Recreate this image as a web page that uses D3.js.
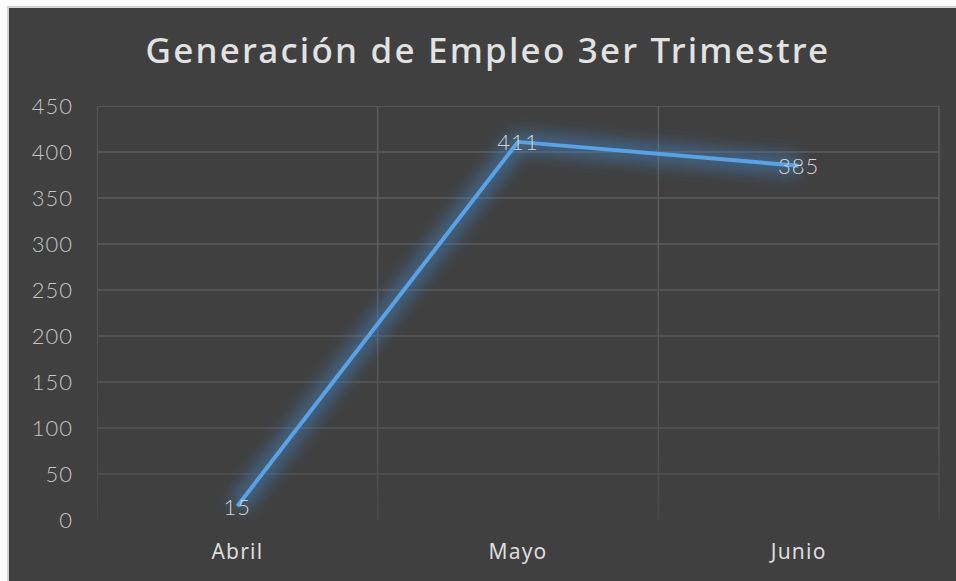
<!DOCTYPE html>
<meta charset="utf-8">
<style>
	body { margin: 0; background: #fff; }
	svg { display: block; }
	.grid line { stroke: #5c5c5c; stroke-width: 1.5px; }
	.axis path, .axis line { display: none; }
	.axis--y text { font: 300 22px Lato, sans-serif; letter-spacing: 1px; fill: #c4c4c4; }
	.axis--x text { font: 400 21px "Noto Sans", sans-serif; letter-spacing: 1.2px; fill: #dcdcdc; }
	.line { fill: none; stroke: #5aa2e4; stroke-width: 4px; stroke-linejoin: round; }
	.glow { fill: none; stroke: #3f88cc; stroke-width: 20px; stroke-opacity: 0.5; }
	.label { font: 300 22px Lato, sans-serif; letter-spacing: 1px; fill: #d4d4d4; }
</style>
<svg width="956" height="581"></svg>
<script src="https://cdn.jsdelivr.net/npm/d3@7"></script>
<script>

var months = ["Abril", "Mayo", "Junio"];
var empleos = [15, 411, 385];
var yTicks = [0, 50, 100, 150, 200, 250, 300, 350, 400, 450];
var title = "Generación de Empleo 3er Trimestre";

var svg = d3.select("svg"),
	margin = {top: 106, right: 17, bottom: 60, left: 97},
	width = 939 - margin.left,
	height = 520 - margin.top;

// frame
svg.append("rect").attr("x", 7).attr("y", 6).attr("width", 960).attr("height", 590)
	.attr("fill", "#d4d4d4");
svg.append("rect").attr("x", 9).attr("y", 8).attr("width", 960).attr("height", 590)
	.attr("fill", "#404040");

var defs = svg.append("defs");
var fade = defs.append("linearGradient").attr("id", "fade")
	.attr("gradientUnits", "userSpaceOnUse")
	.attr("x1", 0).attr("y1", margin.top).attr("x2", 0).attr("y2", margin.top + height);
fade.append("stop").attr("offset", "0%").attr("stop-color", "#fff").attr("stop-opacity", 1);
fade.append("stop").attr("offset", "55%").attr("stop-color", "#fff").attr("stop-opacity", 0.7);
fade.append("stop").attr("offset", "88%").attr("stop-color", "#fff").attr("stop-opacity", 0.08);
fade.append("stop").attr("offset", "100%").attr("stop-color", "#fff").attr("stop-opacity", 0);
defs.append("mask").attr("id", "gridmask")
	.append("rect").attr("x", 0).attr("y", 0).attr("width", 956).attr("height", 581)
	.attr("fill", "url(#fade)");

var blur = defs.append("filter").attr("id", "blur")
	.attr("x", "-20%").attr("y", "-20%").attr("width", "140%").attr("height", "140%");
blur.append("feGaussianBlur").attr("stdDeviation", 8);

var g = svg.append("g").attr("transform", "translate(" + margin.left + "," + margin.top + ")");

var x = d3.scaleBand().domain(months).range([0, width]),
	y = d3.scaleLinear().domain([0, 450]).range([height, 0]);

svg.append("text")
	.attr("x", 488).attr("y", 63)
	.attr("text-anchor", "middle")
	.style("font", "500 35px 'Noto Sans', sans-serif")
	.style("letter-spacing", "2.2px")
	.attr("fill", "#e2e2e2")
	.text(title);

// grid
var grid = g.append("g").attr("class", "grid").attr("mask", "url(#gridmask)");
grid.selectAll(".h").data(yTicks.filter(function(d) { return d > 0; })).enter().append("line")
	.attr("x1", 0).attr("x2", width)
	.attr("y1", function(d) { return y(d); }).attr("y2", function(d) { return y(d); });
var vx = months.map(function(m) { return x(m); }).concat([width]);
grid.selectAll(".v").data(vx).enter().append("line")
	.attr("x1", function(d) { return d; }).attr("x2", function(d) { return d; })
	.attr("y1", 0).attr("y2", height);

g.append("g")
	.attr("class", "axis axis--y")
	.call(d3.axisLeft(y).tickValues(yTicks).tickSize(0).tickPadding(24))
	.selectAll("text").attr("dy", "0.36em");

g.append("g")
	.attr("class", "axis axis--x")
	.attr("transform", "translate(0," + height + ")")
	.call(d3.axisBottom(x).tickSize(0).tickPadding(24));

var line = d3.line()
	.x(function(d, i) { return x(months[i]) + x.bandwidth() / 2; })
	.y(function(d) { return y(d); });

g.append("path").datum(empleos).attr("class", "glow").attr("filter", "url(#blur)").attr("d", line);
g.append("path").datum(empleos).attr("class", "line").attr("d", line);

g.selectAll(".label").data(empleos).enter().append("text")
	.attr("class", "label")
	.attr("x", function(d, i) { return x(months[i]) + x.bandwidth() / 2; })
	.attr("y", function(d) { return y(d); })
	.attr("dy", "0.38em")
	.attr("text-anchor", "middle")
	.text(function(d) { return d; });

</script>
